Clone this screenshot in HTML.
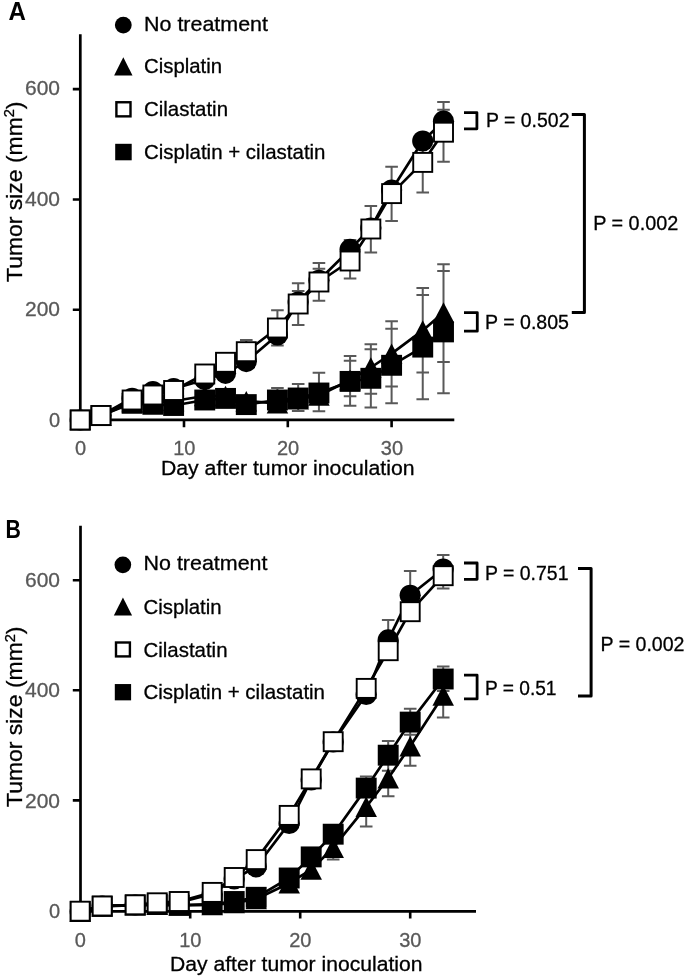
<!DOCTYPE html>
<html><head><meta charset="utf-8"><title>Tumor size</title>
<style>
html,body{margin:0;padding:0;background:#fff;}
svg{display:block;font-family:"Liberation Sans", sans-serif;will-change:transform;transform:translateZ(0);}
</style></head>
<body>
<svg width="685" height="977" viewBox="0 0 685 977">
<rect width="685" height="977" fill="#fff"/>
<path d="M80.3 34.2V421.15M80.3 419.8H454.3" fill="none" stroke="#000" stroke-width="2.7"/>
<path d="M72.8 89.1H80.3M72.8 199.5H80.3M72.8 309.8H80.3M184 419.8V427.3M287.8 419.8V427.3M391.6 419.8V427.3" fill="none" stroke="#000" stroke-width="2.6"/>
<path d="M246.28 340V345M239.98 340H252.58" fill="none" stroke="#595959" stroke-width="2"/>
<path d="M277.42 310.2V345.5M271.12 310.2H283.72M271.12 345.5H283.72" fill="none" stroke="#595959" stroke-width="2"/>
<path d="M298.18 283.3V325.1M291.88 283.3H304.48M291.88 291H304.48M291.88 325.1H304.48" fill="none" stroke="#595959" stroke-width="2"/>
<path d="M318.94 263V300.8M312.64 263H325.24M312.64 268.8H325.24M312.64 300.8H325.24" fill="none" stroke="#595959" stroke-width="2"/>
<path d="M350.08 240V278.5M343.78 240H356.38M343.78 278.5H356.38" fill="none" stroke="#595959" stroke-width="2"/>
<path d="M370.84 206V252.5M364.54 206H377.14M364.54 252.5H377.14" fill="none" stroke="#595959" stroke-width="2"/>
<path d="M391.6 166.8V221M385.3 166.8H397.9M385.3 221H397.9" fill="none" stroke="#595959" stroke-width="2"/>
<path d="M422.74 135V192.4M416.44 135H429.04M416.44 192.4H429.04" fill="none" stroke="#595959" stroke-width="2"/>
<path d="M443.5 101.9V161.8M437.2 101.9H449.8M437.2 109.7H449.8M437.2 161.8H449.8" fill="none" stroke="#595959" stroke-width="2"/>
<path d="M277.42 388V412M271.12 388H283.72M271.12 412H283.72" fill="none" stroke="#595959" stroke-width="2"/>
<path d="M298.18 383.9V411M291.88 383.9H304.48M291.88 411H304.48" fill="none" stroke="#595959" stroke-width="2"/>
<path d="M318.94 372.8V411.2M312.64 372.8H325.24M312.64 411.2H325.24" fill="none" stroke="#595959" stroke-width="2"/>
<path d="M350.08 355.9V405.8M343.78 355.9H356.38M343.78 360.8H356.38M343.78 396.3H356.38M343.78 405.8H356.38" fill="none" stroke="#595959" stroke-width="2"/>
<path d="M370.84 344.2V407.5M364.54 344.2H377.14M364.54 349.2H377.14M364.54 393.8H377.14M364.54 407.5H377.14" fill="none" stroke="#595959" stroke-width="2"/>
<path d="M391.6 321.3V403.2M385.3 321.3H397.9M385.3 328.7H397.9M385.3 386.4H397.9M385.3 403.2H397.9" fill="none" stroke="#595959" stroke-width="2"/>
<path d="M422.74 288.1V399.3M416.44 288.1H429.04M416.44 294.9H429.04M416.44 372.5H429.04M416.44 399.3H429.04" fill="none" stroke="#595959" stroke-width="2"/>
<path d="M443.5 264.3V393.2M437.2 264.3H449.8M437.2 270.9H449.8M437.2 361.9H449.8M437.2 393.2H449.8" fill="none" stroke="#595959" stroke-width="2"/>
<polyline points="80.2,420 100.96,415.5 132.1,398.3 152.86,391.5 173.62,388.7 204.76,379.6 225.52,373.3 246.28,361.6 277.42,335 298.18,302 318.94,280.3 350.08,249.4 370.84,228 391.6,190 422.74,141 443.5,121.2" fill="none" stroke="#000" stroke-width="2.7" stroke-linejoin="round"/>
<circle cx="80.2" cy="420" r="10.6" fill="#000"/>
<circle cx="100.96" cy="415.5" r="10.6" fill="#000"/>
<circle cx="132.1" cy="398.3" r="10.6" fill="#000"/>
<circle cx="152.86" cy="391.5" r="10.6" fill="#000"/>
<circle cx="173.62" cy="388.7" r="10.6" fill="#000"/>
<circle cx="204.76" cy="379.6" r="10.6" fill="#000"/>
<circle cx="225.52" cy="373.3" r="10.6" fill="#000"/>
<circle cx="246.28" cy="361.6" r="10.6" fill="#000"/>
<circle cx="277.42" cy="335" r="10.6" fill="#000"/>
<circle cx="298.18" cy="302" r="10.6" fill="#000"/>
<circle cx="318.94" cy="280.3" r="10.6" fill="#000"/>
<circle cx="350.08" cy="249.4" r="10.6" fill="#000"/>
<circle cx="370.84" cy="228" r="10.6" fill="#000"/>
<circle cx="391.6" cy="190" r="10.6" fill="#000"/>
<circle cx="422.74" cy="141" r="10.6" fill="#000"/>
<circle cx="443.5" cy="121.2" r="10.6" fill="#000"/>
<polyline points="80.2,420 100.96,415.8 132.1,402 152.86,402.5 173.62,401 204.76,396 225.52,396 246.28,401.2 277.42,403.3 298.18,399.2 318.94,395.5 350.08,380 370.84,367.5 391.6,353.7 422.74,330.4 443.5,312.5" fill="none" stroke="#000" stroke-width="2.7" stroke-linejoin="round"/>
<path d="M80.2 409.75L90.95 430.25L69.45 430.25Z" fill="#000"/>
<path d="M100.96 405.55L111.71 426.05L90.21 426.05Z" fill="#000"/>
<path d="M132.1 391.75L142.85 412.25L121.35 412.25Z" fill="#000"/>
<path d="M152.86 392.25L163.61 412.75L142.11 412.75Z" fill="#000"/>
<path d="M173.62 390.75L184.37 411.25L162.87 411.25Z" fill="#000"/>
<path d="M204.76 385.75L215.51 406.25L194.01 406.25Z" fill="#000"/>
<path d="M225.52 385.75L236.27 406.25L214.77 406.25Z" fill="#000"/>
<path d="M246.28 390.95L257.03 411.45L235.53 411.45Z" fill="#000"/>
<path d="M277.42 393.05L288.17 413.55L266.67 413.55Z" fill="#000"/>
<path d="M298.18 388.95L308.93 409.45L287.43 409.45Z" fill="#000"/>
<path d="M318.94 385.25L329.69 405.75L308.19 405.75Z" fill="#000"/>
<path d="M350.08 369.75L360.83 390.25L339.33 390.25Z" fill="#000"/>
<path d="M370.84 357.25L381.59 377.75L360.09 377.75Z" fill="#000"/>
<path d="M391.6 343.45L402.35 363.95L380.85 363.95Z" fill="#000"/>
<path d="M422.74 320.15L433.49 340.65L411.99 340.65Z" fill="#000"/>
<path d="M443.5 302.25L454.25 322.75L432.75 322.75Z" fill="#000"/>
<polyline points="80.2,420 100.96,415.6 132.1,403.3 152.86,404.3 173.62,405.5 204.76,400 225.52,398.4 246.28,404.6 277.42,400 298.18,398 318.94,393 350.08,381.4 370.84,378.3 391.6,365.3 422.74,347.1 443.5,331.9" fill="none" stroke="#000" stroke-width="2.7" stroke-linejoin="round"/>
<rect x="69.75" y="409.55" width="20.9" height="20.9" fill="#000"/>
<rect x="90.51" y="405.15" width="20.9" height="20.9" fill="#000"/>
<rect x="121.65" y="392.85" width="20.9" height="20.9" fill="#000"/>
<rect x="142.41" y="393.85" width="20.9" height="20.9" fill="#000"/>
<rect x="163.17" y="395.05" width="20.9" height="20.9" fill="#000"/>
<rect x="194.31" y="389.55" width="20.9" height="20.9" fill="#000"/>
<rect x="215.07" y="387.95" width="20.9" height="20.9" fill="#000"/>
<rect x="235.83" y="394.15" width="20.9" height="20.9" fill="#000"/>
<rect x="266.97" y="389.55" width="20.9" height="20.9" fill="#000"/>
<rect x="287.73" y="387.55" width="20.9" height="20.9" fill="#000"/>
<rect x="308.49" y="382.55" width="20.9" height="20.9" fill="#000"/>
<rect x="339.63" y="370.95" width="20.9" height="20.9" fill="#000"/>
<rect x="360.39" y="367.85" width="20.9" height="20.9" fill="#000"/>
<rect x="381.15" y="354.85" width="20.9" height="20.9" fill="#000"/>
<rect x="412.29" y="336.65" width="20.9" height="20.9" fill="#000"/>
<rect x="433.05" y="321.45" width="20.9" height="20.9" fill="#000"/>
<polyline points="80.2,420 100.96,415.5 132.1,400 152.86,395 173.62,390.5 204.76,374 225.52,362.3 246.28,351.7 277.42,328 298.18,304 318.94,282 350.08,261 370.84,229 391.6,193.6 422.74,162.4 443.5,132.2" fill="none" stroke="#000" stroke-width="2.7" stroke-linejoin="round"/>
<rect x="70.7" y="410.5" width="19" height="19" fill="#fff" stroke="#000" stroke-width="1.9"/>
<rect x="91.46" y="406" width="19" height="19" fill="#fff" stroke="#000" stroke-width="1.9"/>
<rect x="122.6" y="390.5" width="19" height="19" fill="#fff" stroke="#000" stroke-width="1.9"/>
<rect x="143.36" y="385.5" width="19" height="19" fill="#fff" stroke="#000" stroke-width="1.9"/>
<rect x="164.12" y="381" width="19" height="19" fill="#fff" stroke="#000" stroke-width="1.9"/>
<rect x="195.26" y="364.5" width="19" height="19" fill="#fff" stroke="#000" stroke-width="1.9"/>
<rect x="216.02" y="352.8" width="19" height="19" fill="#fff" stroke="#000" stroke-width="1.9"/>
<rect x="236.78" y="342.2" width="19" height="19" fill="#fff" stroke="#000" stroke-width="1.9"/>
<rect x="267.92" y="318.5" width="19" height="19" fill="#fff" stroke="#000" stroke-width="1.9"/>
<rect x="288.68" y="294.5" width="19" height="19" fill="#fff" stroke="#000" stroke-width="1.9"/>
<rect x="309.44" y="272.5" width="19" height="19" fill="#fff" stroke="#000" stroke-width="1.9"/>
<rect x="340.58" y="251.5" width="19" height="19" fill="#fff" stroke="#000" stroke-width="1.9"/>
<rect x="361.34" y="219.5" width="19" height="19" fill="#fff" stroke="#000" stroke-width="1.9"/>
<rect x="382.1" y="184.1" width="19" height="19" fill="#fff" stroke="#000" stroke-width="1.9"/>
<rect x="413.24" y="152.9" width="19" height="19" fill="#fff" stroke="#000" stroke-width="1.9"/>
<rect x="434" y="122.7" width="19" height="19" fill="#fff" stroke="#000" stroke-width="1.9"/>
<circle cx="123.3" cy="25.1" r="8.4" fill="#000"/>
<path d="M123.3 57.2L132.5 75.6L114.1 75.6Z" fill="#000"/>
<rect x="116.4" y="102.25" width="14.1" height="14.1" fill="#fff" stroke="#000" stroke-width="2.4"/>
<rect x="115.2" y="143.8" width="16.5" height="16.5" fill="#000"/>
<text x="144" y="30.8" font-size="20.2" fill="#000" stroke="#000" stroke-width="0.3" textLength="124" lengthAdjust="spacingAndGlyphs">No treatment</text>
<text x="144" y="72.5" font-size="20.2" fill="#000" stroke="#000" stroke-width="0.3" textLength="78" lengthAdjust="spacingAndGlyphs">Cisplatin</text>
<text x="144" y="116.3" font-size="20.2" fill="#000" stroke="#000" stroke-width="0.3" textLength="84" lengthAdjust="spacingAndGlyphs">Cilastatin</text>
<text x="144" y="159.4" font-size="20.2" fill="#000" stroke="#000" stroke-width="0.3" textLength="181.5" lengthAdjust="spacingAndGlyphs">Cisplatin + cilastatin</text>
<text x="8.4" y="19.7" font-size="25.5" fill="#000" stroke="#000" stroke-width="0" font-weight="bold" textLength="17.4" lengthAdjust="spacingAndGlyphs">A</text>
<text x="60" y="95.3" font-size="20" fill="#595959" stroke="#595959" stroke-width="0.3" text-anchor="end" textLength="35" lengthAdjust="spacingAndGlyphs">600</text>
<text x="60" y="205.5" font-size="20" fill="#595959" stroke="#595959" stroke-width="0.3" text-anchor="end" textLength="35" lengthAdjust="spacingAndGlyphs">400</text>
<text x="60" y="316" font-size="20" fill="#595959" stroke="#595959" stroke-width="0.3" text-anchor="end" textLength="35" lengthAdjust="spacingAndGlyphs">200</text>
<text x="60" y="426.8" font-size="20" fill="#595959" stroke="#595959" stroke-width="0.3" text-anchor="end">0</text>
<text x="80.5" y="455.2" font-size="20" fill="#595959" stroke="#595959" stroke-width="0.3" text-anchor="middle">0</text>
<text x="184.3" y="455.2" font-size="20" fill="#595959" stroke="#595959" stroke-width="0.3" text-anchor="middle">10</text>
<text x="288.1" y="455.2" font-size="20" fill="#595959" stroke="#595959" stroke-width="0.3" text-anchor="middle">20</text>
<text x="391.9" y="455.2" font-size="20" fill="#595959" stroke="#595959" stroke-width="0.3" text-anchor="middle">30</text>
<text x="161" y="475.3" font-size="20.5" fill="#000" stroke="#000" stroke-width="0.3" textLength="253.5" lengthAdjust="spacingAndGlyphs">Day after tumor inoculation</text>
<text x="21.5" y="282" font-size="22" fill="#000" stroke="#000" stroke-width="0.3" textLength="180.5" lengthAdjust="spacingAndGlyphs" transform="rotate(-90 21.5 282)">Tumor size (mm<tspan font-size="14" dy="-7.5">2</tspan><tspan dy="7.5">)</tspan></text>
<path d="M464 112.6H476.9V128.8H464" fill="none" stroke="#000" stroke-width="2.8" stroke-linejoin="round"/>
<path d="M464 312.6H477.3V331.2H464" fill="none" stroke="#000" stroke-width="2.8" stroke-linejoin="round"/>
<text x="486" y="127.2" font-size="20.3" fill="#000" stroke="#000" stroke-width="0.3" textLength="83.5" lengthAdjust="spacingAndGlyphs">P = 0.502</text>
<text x="485" y="329.4" font-size="20.3" fill="#000" stroke="#000" stroke-width="0.3" textLength="84" lengthAdjust="spacingAndGlyphs">P = 0.805</text>
<text x="593.2" y="230.4" font-size="20.3" fill="#000" stroke="#000" stroke-width="0.3" textLength="85" lengthAdjust="spacingAndGlyphs">P = 0.002</text>
<path d="M571.8 114.4H584.4V312.6H571.8" fill="none" stroke="#000" stroke-width="3" stroke-linejoin="round"/>
<path d="M80.5 525.8V912.75M80.5 911.4H476" fill="none" stroke="#000" stroke-width="2.7"/>
<path d="M72.8 580.2H80.5M72.8 690.3H80.5M72.8 800.4H80.5M190.2 911.4V918.6M300.2 911.4V918.6M410.2 911.4V918.6" fill="none" stroke="#000" stroke-width="2.6"/>
<path d="M388.2 620.1V640M381.9 620.1H394.5" fill="none" stroke="#595959" stroke-width="2"/>
<path d="M410.2 571V600M403.9 571H416.5" fill="none" stroke="#595959" stroke-width="2"/>
<path d="M443.2 554.9V588.4M436.9 554.9H449.5M436.9 588.4H449.5" fill="none" stroke="#595959" stroke-width="2"/>
<path d="M333.2 832V859.5M326.9 832H339.5M326.9 859.5H339.5" fill="none" stroke="#595959" stroke-width="2"/>
<path d="M366.2 776.4V826.6M359.9 776.4H372.5M359.9 826.6H372.5" fill="none" stroke="#595959" stroke-width="2"/>
<path d="M388.2 741V796.3M381.9 741H394.5M381.9 770.7H394.5M381.9 796.3H394.5" fill="none" stroke="#595959" stroke-width="2"/>
<path d="M410.2 708.7V765.8M403.9 708.7H416.5M403.9 734.8H416.5M403.9 765.8H416.5" fill="none" stroke="#595959" stroke-width="2"/>
<path d="M443.2 666.6V717.4M436.9 666.6H449.5M436.9 690.9H449.5M436.9 717.4H449.5" fill="none" stroke="#595959" stroke-width="2"/>
<polyline points="80.2,911.5 102.2,906 135.2,905 157.2,904 179.2,902.5 212.2,894 234.2,879 256.2,866.8 289.2,823.4 311.2,780 333.2,742 366.2,694.5 388.2,639.9 410.2,595.3 443.2,569" fill="none" stroke="#000" stroke-width="2.7" stroke-linejoin="round"/>
<circle cx="80.2" cy="911.5" r="10.6" fill="#000"/>
<circle cx="102.2" cy="906" r="10.6" fill="#000"/>
<circle cx="135.2" cy="905" r="10.6" fill="#000"/>
<circle cx="157.2" cy="904" r="10.6" fill="#000"/>
<circle cx="179.2" cy="902.5" r="10.6" fill="#000"/>
<circle cx="212.2" cy="894" r="10.6" fill="#000"/>
<circle cx="234.2" cy="879" r="10.6" fill="#000"/>
<circle cx="256.2" cy="866.8" r="10.6" fill="#000"/>
<circle cx="289.2" cy="823.4" r="10.6" fill="#000"/>
<circle cx="311.2" cy="780" r="10.6" fill="#000"/>
<circle cx="333.2" cy="742" r="10.6" fill="#000"/>
<circle cx="366.2" cy="694.5" r="10.6" fill="#000"/>
<circle cx="388.2" cy="639.9" r="10.6" fill="#000"/>
<circle cx="410.2" cy="595.3" r="10.6" fill="#000"/>
<circle cx="443.2" cy="569" r="10.6" fill="#000"/>
<polyline points="80.2,911.5 102.2,906.4 135.2,905.2 157.2,904.8 179.2,905.5 212.2,905 234.2,903 256.2,899 289.2,883.2 311.2,869.6 333.2,847.7 366.2,806.8 388.2,778.3 410.2,746.3 443.2,695.5" fill="none" stroke="#000" stroke-width="2.7" stroke-linejoin="round"/>
<path d="M80.2 901.25L90.95 921.75L69.45 921.75Z" fill="#000"/>
<path d="M102.2 896.15L112.95 916.65L91.45 916.65Z" fill="#000"/>
<path d="M135.2 894.95L145.95 915.45L124.45 915.45Z" fill="#000"/>
<path d="M157.2 894.55L167.95 915.05L146.45 915.05Z" fill="#000"/>
<path d="M179.2 895.25L189.95 915.75L168.45 915.75Z" fill="#000"/>
<path d="M212.2 894.75L222.95 915.25L201.45 915.25Z" fill="#000"/>
<path d="M234.2 892.75L244.95 913.25L223.45 913.25Z" fill="#000"/>
<path d="M256.2 888.75L266.95 909.25L245.45 909.25Z" fill="#000"/>
<path d="M289.2 872.95L299.95 893.45L278.45 893.45Z" fill="#000"/>
<path d="M311.2 859.35L321.95 879.85L300.45 879.85Z" fill="#000"/>
<path d="M333.2 837.45L343.95 857.95L322.45 857.95Z" fill="#000"/>
<path d="M366.2 796.55L376.95 817.05L355.45 817.05Z" fill="#000"/>
<path d="M388.2 768.05L398.95 788.55L377.45 788.55Z" fill="#000"/>
<path d="M410.2 736.05L420.95 756.55L399.45 756.55Z" fill="#000"/>
<path d="M443.2 685.25L453.95 705.75L432.45 705.75Z" fill="#000"/>
<polyline points="80.2,911.5 102.2,906.2 135.2,905 157.2,904.4 179.2,905.2 212.2,904 234.2,901.5 256.2,897.3 289.2,878 311.2,856.9 333.2,834.2 366.2,788.1 388.2,755.2 410.2,722.1 443.2,679" fill="none" stroke="#000" stroke-width="2.7" stroke-linejoin="round"/>
<rect x="69.75" y="901.05" width="20.9" height="20.9" fill="#000"/>
<rect x="91.75" y="895.75" width="20.9" height="20.9" fill="#000"/>
<rect x="124.75" y="894.55" width="20.9" height="20.9" fill="#000"/>
<rect x="146.75" y="893.95" width="20.9" height="20.9" fill="#000"/>
<rect x="168.75" y="894.75" width="20.9" height="20.9" fill="#000"/>
<rect x="201.75" y="893.55" width="20.9" height="20.9" fill="#000"/>
<rect x="223.75" y="891.05" width="20.9" height="20.9" fill="#000"/>
<rect x="245.75" y="886.85" width="20.9" height="20.9" fill="#000"/>
<rect x="278.75" y="867.55" width="20.9" height="20.9" fill="#000"/>
<rect x="300.75" y="846.45" width="20.9" height="20.9" fill="#000"/>
<rect x="322.75" y="823.75" width="20.9" height="20.9" fill="#000"/>
<rect x="355.75" y="777.65" width="20.9" height="20.9" fill="#000"/>
<rect x="377.75" y="744.75" width="20.9" height="20.9" fill="#000"/>
<rect x="399.75" y="711.65" width="20.9" height="20.9" fill="#000"/>
<rect x="432.75" y="668.55" width="20.9" height="20.9" fill="#000"/>
<polyline points="80.2,911.2 102.2,906 135.2,904.8 157.2,902.8 179.2,901.5 212.2,892.4 234.2,877.5 256.2,859.6 289.2,815.4 311.2,778.9 333.2,741.7 366.2,688.4 388.2,650.7 410.2,611.7 443.2,575.7" fill="none" stroke="#000" stroke-width="2.7" stroke-linejoin="round"/>
<rect x="70.7" y="901.7" width="19" height="19" fill="#fff" stroke="#000" stroke-width="1.9"/>
<rect x="92.7" y="896.5" width="19" height="19" fill="#fff" stroke="#000" stroke-width="1.9"/>
<rect x="125.7" y="895.3" width="19" height="19" fill="#fff" stroke="#000" stroke-width="1.9"/>
<rect x="147.7" y="893.3" width="19" height="19" fill="#fff" stroke="#000" stroke-width="1.9"/>
<rect x="169.7" y="892" width="19" height="19" fill="#fff" stroke="#000" stroke-width="1.9"/>
<rect x="202.7" y="882.9" width="19" height="19" fill="#fff" stroke="#000" stroke-width="1.9"/>
<rect x="224.7" y="868" width="19" height="19" fill="#fff" stroke="#000" stroke-width="1.9"/>
<rect x="246.7" y="850.1" width="19" height="19" fill="#fff" stroke="#000" stroke-width="1.9"/>
<rect x="279.7" y="805.9" width="19" height="19" fill="#fff" stroke="#000" stroke-width="1.9"/>
<rect x="301.7" y="769.4" width="19" height="19" fill="#fff" stroke="#000" stroke-width="1.9"/>
<rect x="323.7" y="732.2" width="19" height="19" fill="#fff" stroke="#000" stroke-width="1.9"/>
<rect x="356.7" y="678.9" width="19" height="19" fill="#fff" stroke="#000" stroke-width="1.9"/>
<rect x="378.7" y="641.2" width="19" height="19" fill="#fff" stroke="#000" stroke-width="1.9"/>
<rect x="400.7" y="602.2" width="19" height="19" fill="#fff" stroke="#000" stroke-width="1.9"/>
<rect x="433.7" y="566.2" width="19" height="19" fill="#fff" stroke="#000" stroke-width="1.9"/>
<circle cx="122.85" cy="564.8" r="8.35" fill="#000"/>
<path d="M122.95 597.5L132.05 615.6L113.85 615.6Z" fill="#000"/>
<rect x="116" y="642.5" width="13.9" height="13.9" fill="#fff" stroke="#000" stroke-width="2.4"/>
<rect x="114.8" y="684.05" width="16.3" height="16.3" fill="#000"/>
<text x="143.5" y="570.3" font-size="20.2" fill="#000" stroke="#000" stroke-width="0.3" textLength="124" lengthAdjust="spacingAndGlyphs">No treatment</text>
<text x="143.5" y="613.7" font-size="20.2" fill="#000" stroke="#000" stroke-width="0.3" textLength="78" lengthAdjust="spacingAndGlyphs">Cisplatin</text>
<text x="143.5" y="656.5" font-size="20.2" fill="#000" stroke="#000" stroke-width="0.3" textLength="84" lengthAdjust="spacingAndGlyphs">Cilastatin</text>
<text x="143.5" y="699.2" font-size="20.2" fill="#000" stroke="#000" stroke-width="0.3" textLength="181.5" lengthAdjust="spacingAndGlyphs">Cisplatin + cilastatin</text>
<text x="5.6" y="538" font-size="25.5" fill="#000" stroke="#000" stroke-width="0" font-weight="bold" textLength="15.4" lengthAdjust="spacingAndGlyphs">B</text>
<text x="60" y="587" font-size="20" fill="#595959" stroke="#595959" stroke-width="0.3" text-anchor="end" textLength="35" lengthAdjust="spacingAndGlyphs">600</text>
<text x="60" y="697.4" font-size="20" fill="#595959" stroke="#595959" stroke-width="0.3" text-anchor="end" textLength="35" lengthAdjust="spacingAndGlyphs">400</text>
<text x="60" y="807.5" font-size="20" fill="#595959" stroke="#595959" stroke-width="0.3" text-anchor="end" textLength="35" lengthAdjust="spacingAndGlyphs">200</text>
<text x="60" y="918.4" font-size="20" fill="#595959" stroke="#595959" stroke-width="0.3" text-anchor="end">0</text>
<text x="80.3" y="947" font-size="20" fill="#595959" stroke="#595959" stroke-width="0.3" text-anchor="middle">0</text>
<text x="190.3" y="947" font-size="20" fill="#595959" stroke="#595959" stroke-width="0.3" text-anchor="middle">10</text>
<text x="300.3" y="947" font-size="20" fill="#595959" stroke="#595959" stroke-width="0.3" text-anchor="middle">20</text>
<text x="410.3" y="947" font-size="20" fill="#595959" stroke="#595959" stroke-width="0.3" text-anchor="middle">30</text>
<text x="170" y="971" font-size="20.5" fill="#000" stroke="#000" stroke-width="0.3" textLength="252.5" lengthAdjust="spacingAndGlyphs">Day after tumor inoculation</text>
<text x="22" y="807" font-size="22" fill="#000" stroke="#000" stroke-width="0.3" textLength="180.5" lengthAdjust="spacingAndGlyphs" transform="rotate(-90 22 807)">Tumor size (mm<tspan font-size="14" dy="-7.5">2</tspan><tspan dy="7.5">)</tspan></text>
<path d="M464 563H477.1V579.3H464" fill="none" stroke="#000" stroke-width="2.8" stroke-linejoin="round"/>
<path d="M464 675.2H477.1V698.9H464" fill="none" stroke="#000" stroke-width="2.8" stroke-linejoin="round"/>
<text x="485" y="579.6" font-size="20.3" fill="#000" stroke="#000" stroke-width="0.3" textLength="83.5" lengthAdjust="spacingAndGlyphs">P = 0.751</text>
<text x="485" y="694.5" font-size="20.3" fill="#000" stroke="#000" stroke-width="0.3" textLength="71.5" lengthAdjust="spacingAndGlyphs">P = 0.51</text>
<text x="600.5" y="650.8" font-size="20.3" fill="#000" stroke="#000" stroke-width="0.3" textLength="84" lengthAdjust="spacingAndGlyphs">P = 0.002</text>
<path d="M578 568.6H591.1V695.9H578" fill="none" stroke="#000" stroke-width="3" stroke-linejoin="round"/>
</svg>
</body></html>
